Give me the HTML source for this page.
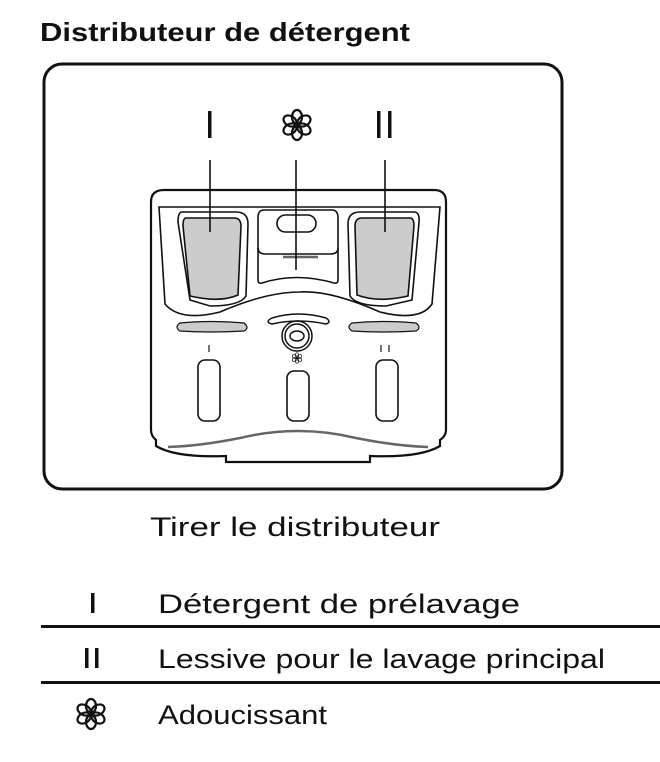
<!DOCTYPE html>
<html><head><meta charset="utf-8"><style>
body{margin:0;background:#fff;width:660px;height:762px;overflow:hidden}
svg{display:block}
text{font-family:"Liberation Sans",sans-serif;fill:#111}
</style></head><body>
<svg width="660" height="762" viewBox="0 0 660 762">
<defs>
<g id="fl" fill="none" stroke="#111" stroke-width="2.2">
<ellipse cx="0" cy="-8" rx="5" ry="7"/>
<ellipse cx="0" cy="-8" rx="5" ry="7" transform="rotate(60)"/>
<ellipse cx="0" cy="-8" rx="5" ry="7" transform="rotate(120)"/>
<ellipse cx="0" cy="-8" rx="5" ry="7" transform="rotate(180)"/>
<ellipse cx="0" cy="-8" rx="5" ry="7" transform="rotate(240)"/>
<ellipse cx="0" cy="-8" rx="5" ry="7" transform="rotate(300)"/>
</g>
</defs>
<text x="40" y="41" font-size="26" font-weight="bold" textLength="370" lengthAdjust="spacingAndGlyphs">Distributeur de détergent</text>
<rect x="44" y="64" width="518" height="425" rx="18" fill="none" stroke="#111" stroke-width="3"/>
<rect x="208" y="111" width="3.5" height="27" fill="#111"/>
<use href="#fl" transform="translate(297,125) scale(1.0)"/>
<rect x="377" y="111" width="3.5" height="27" fill="#111"/>
<rect x="388" y="111" width="3.5" height="27" fill="#111"/>
<g fill="none" stroke="#111" stroke-width="2">
<path d="M164 190 H434 Q446 190 446 202 V430 Q446 436 440 440 L440 446 Q420 458 370 456 L370 462 H226 L226 456 Q176 458 156 446 L156 440 Q151 436 151 430 V202 Q151 190 164 190 Z" stroke-width="2.2"/>
<path d="M159 207 H440 L432 304 Q420 322 380 312 Q330 290 300 292 Q266 292 220 312 Q180 322 165 304 Z" stroke-width="1.6"/>
<path d="M182 212 H236 Q248 212 248 224 L246 296 Q240 306 210 306 L190 300 L178 222 Q178 212 182 212 Z" stroke-width="1.6"/>
<path d="M186 218 H234 Q241 218 241 226 L238 295 Q220 303 190 296 L183 226 Q183 218 186 218 Z" fill="#ccc" stroke-width="1.6"/>
<path d="M360 212 H414 Q420 212 419 222 L412 300 L386 306 Q356 306 350 296 L348 224 Q348 212 360 212 Z" stroke-width="1.6"/>
<path d="M362 218 H410 Q414 218 414 226 L408 296 Q378 303 357 295 L355 226 Q355 218 362 218 Z" fill="#ccc" stroke-width="1.6"/>
<path d="M264 210 H332 Q338 210 338 218 V280 Q338 284 334 283 Q296 272 262 283 Q258 284 258 280 V218 Q258 210 264 210 Z" stroke-width="1.6"/>
<path d="M258 248 Q258 254 266 254 H330 Q338 254 338 248" stroke-width="1.6"/>
<rect x="277" y="215" width="39" height="17" rx="8.5" stroke-width="1.6"/>
<path d="M283 257 H318" stroke="#666" stroke-width="2.5"/>
<path d="M272 318 Q298 310 326 318 Q332 322 326 324 Q298 318 272 324 Q264 322 272 318 Z" stroke-width="1.5"/>
<circle cx="297" cy="336" r="15" stroke-width="1.5"/><circle cx="297" cy="336" r="12" stroke-width="1.5"/>
<ellipse cx="297" cy="336" rx="7" ry="5" stroke-width="1.5"/>
<rect x="198" y="360" width="22" height="61" rx="7" stroke-width="1.6"/>
<rect x="287" y="371" width="22" height="50" rx="7" stroke-width="1.6"/>
<rect x="376" y="360" width="22" height="61" rx="7" stroke-width="1.6"/>
<path d="M168 447 Q200 446 240 438 Q298 424 356 438 Q396 446 428 447" stroke="#666" stroke-width="2.5"/>
<path d="M210 160 V232 M296 160 V270 M385 160 V232" stroke-width="1.6"/>
<path d="M209 345 V352 M381 345 V352 M389 345 V352" stroke="#444" stroke-width="1.5"/>
</g>
<path d="M180 323 Q210 320 244 323 Q250 328 244 331 Q210 333 180 331 Q174 327 180 323 Z" fill="#ccc" stroke="#111" stroke-width="1.2"/>
<path d="M352 323 Q386 320 416 323 Q422 328 416 331 Q386 333 352 331 Q346 327 352 323 Z" fill="#ccc" stroke="#111" stroke-width="1.2"/>
<use href="#fl" transform="translate(297,358) scale(0.35)"/>
<text x="150" y="536" font-size="27" textLength="290" lengthAdjust="spacingAndGlyphs">Tirer le distributeur</text>
<rect x="91" y="593" width="3.5" height="20" fill="#111"/>
<text x="158" y="613" font-size="27" textLength="362" lengthAdjust="spacingAndGlyphs">Détergent de prélavage</text>
<rect x="41" y="625" width="619" height="3" fill="#111"/>
<rect x="85" y="648" width="3.5" height="20" fill="#111"/>
<rect x="95" y="648" width="3.5" height="20" fill="#111"/>
<text x="158" y="668" font-size="27" textLength="447" lengthAdjust="spacingAndGlyphs">Lessive pour le lavage principal</text>
<rect x="41" y="681" width="619" height="3" fill="#111"/>
<use href="#fl" transform="translate(91,714) scale(1.0)"/>
<text x="158" y="724" font-size="27" textLength="169" lengthAdjust="spacingAndGlyphs">Adoucissant</text>
</svg>
</body></html>
